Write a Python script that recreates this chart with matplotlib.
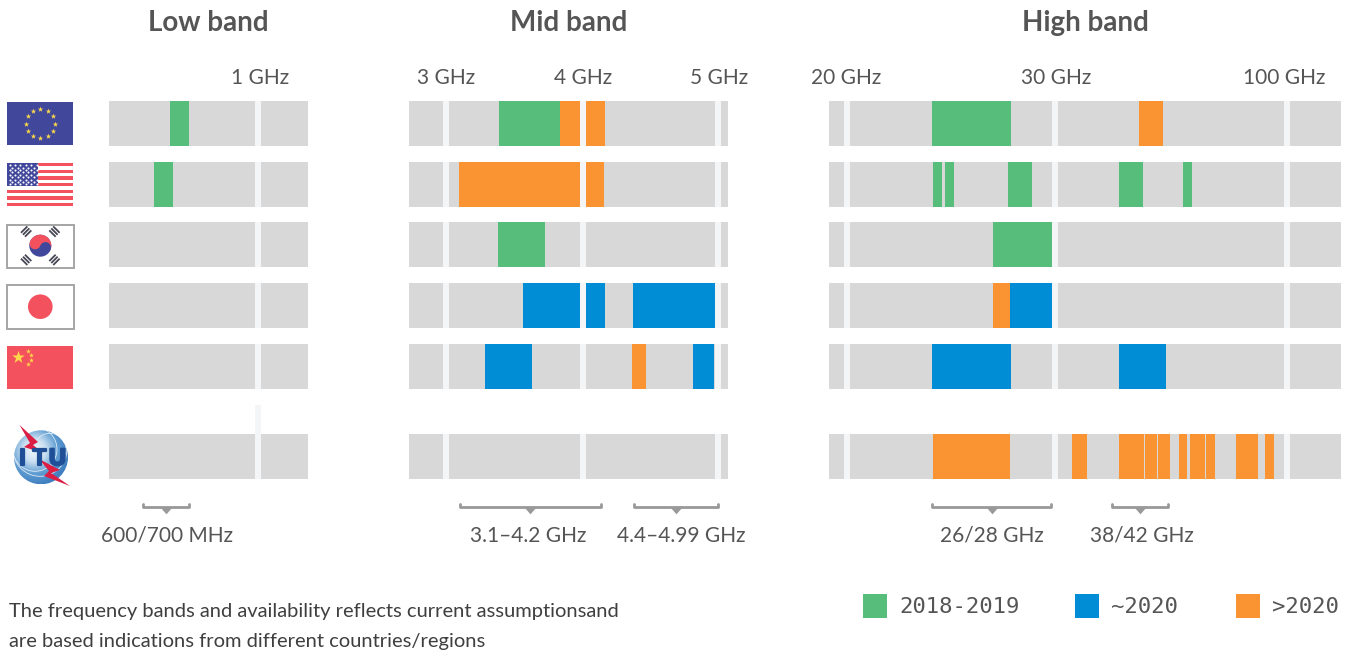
import numpy as np
import matplotlib
matplotlib.use('Agg')
import matplotlib.pyplot as plt
import matplotlib.patheffects as pe
from matplotlib.patches import Rectangle, Circle, Wedge, Polygon

plt.rcParams['font.family'] = 'Lato'

# status of a block of spectrum
early = '2018-2019'
mid = '~2020'
late = '>2020'
statuses = [early, mid, late]
colors = {early: '#57BD7B', mid: '#018DD5', late: '#FA9433'}
status_x = [863, 1075, 1236]

# rows: EU, USA, Korea, Japan, China, ITU. Blocks are (from GHz, to GHz, status)
low_eu = [(0.693, 0.759, early)]
low_us = [(0.637, 0.703, early)]
low_bands = [low_eu, low_us, [], [], [], []]

mid_eu = [(3.387, 3.832, early), (3.832, 3.978, late), (4.022, 4.163, late)]
mid_us = [(3.095, 3.978, late), (4.022, 4.156, late)]
mid_kr = [(3.380, 3.723, early)]
mid_jp = [(3.562, 3.978, mid), (4.022, 4.163, mid), (4.370, 4.978, mid)]
mid_cn = [(3.285, 3.628, mid), (4.363, 4.467, late), (4.815, 4.970, mid)]
mid_bands = [mid_eu, mid_us, mid_kr, mid_jp, mid_cn, []]

high_eu = [(24.087, 27.885, early), (39.766, 43.085, late)]
high_us = [(24.135, 24.567, early), (24.712, 25.144, early), (27.74, 28.894, early),
           (37.0, 40.319, early), (51.437, 55.64, early)]
high_kr = [(27.019, 29.856, early)]
high_jp = [(27.019, 27.837, late), (27.837, 29.856, mid)]
high_cn = [(24.087, 27.885, mid), (37.0, 43.5, mid)]
high_itu = [(24.135, 27.837, late), (31.859, 33.5, late), (37.0, 40.457, late),
            (40.595, 42.255, late), (42.393, 45.367, late), (49.569, 53.304, late),
            (54.705, 61.707, late), (62.174, 66.376, late), (76.18, 86.45, late),
            (89.718, 93.92, late)]
high_bands = [high_eu, high_us, high_kr, high_jp, high_cn, high_itu]

# axis breaks of each band, the picture's frequency axis is not linear
low_ghz = [0.48, 1, 1.174]
low_px = [109, 258, 308]
mid_ghz = [2.73, 3, 4, 5, 5.074]
mid_px = [409, 446, 583, 718, 728]
high_ghz = [19.13, 20, 30, 37, 43.5, 100, 125.2]
high_px = [829, 847, 1055, 1119, 1166, 1287, 1341]

low_ticks = [1]
low_ticklabels = ['1 GHz']
mid_ticks = [3, 4, 5]
mid_ticklabels = ['3 GHz', '4 GHz', '5 GHz']
high_ticks = [20, 30, 100]
high_ticklabels = ['20 GHz', '30 GHz', '100 GHz']

# brackets under the bars: (from GHz, to GHz)
low_brackets = [(0.6, 0.76)]
mid_brackets = [(3.1, 4.134), (4.375, 5.0)]
high_brackets = [(24.1, 29.8), (36.23, 44.43)]
bracket_labels = ['600/700 MHz', '3.1–4.2 GHz', '4.4–4.99 GHz', '26/28 GHz', '38/42 GHz']

row_y = [123.5, 184.5, 244.5, 305.5, 366.5, 456.5]
bar_h = 45
W, H = 1358, 654
gray = '#D8D8D8'
gap_color = '#F4F5F7'
text_color = '#555555'
px = 72 / 100  # one pixel in points

fig = plt.figure(figsize=(W / 100, H / 100), dpi=100)

# overlay in pixel coordinates for flags, legend and notes
over = fig.add_axes([0, 0, 1, 1], zorder=5)
over.set_xlim(0, W)
over.set_ylim(H, 0)
over.axis('off')

tip = [(-1, 0.55), (1, 0.55), (0, -0.6)]


def draw_band(ghz, pos, blocks, ticks, ticklabels, brackets, title, title_x, label_x, long_gap=None):
    ax = fig.add_axes([pos[0] / W, 0, (pos[-1] - pos[0]) / W, 1])
    forward = lambda v: np.interp(v, ghz, pos)
    inverse = lambda v: np.interp(v, pos, ghz)
    ax.set_xscale('function', functions=(forward, inverse))
    ax.set_xlim(ghz[0], ghz[-1])
    ax.set_ylim(H, 0)
    ax.axis('off')

    for y, row in zip(row_y, blocks):
        ax.barh(y, ghz[-1] - ghz[0], left=ghz[0], height=bar_h, color=gray, zorder=1)
        ax.vlines(ticks, y - bar_h / 2, y + bar_h / 2, color=gap_color, lw=6 * px,
                  capstyle='butt', zorder=2)
        for start, end, status in row:
            ax.barh(y, end - start, left=start, height=bar_h, color=colors[status], zorder=3)
    if long_gap is not None:
        ax.vlines(ticks, long_gap, row_y[-1], color=gap_color, lw=6 * px, capstyle='butt', zorder=2)

    for t, lab, x in zip(ticks, ticklabels, label_x):
        over.text(x, 77.5, lab, ha='center', va='center', fontsize=15, color=text_color)
    over.text(title_x, 23, title, ha='center', va='center', fontsize=20,
              fontweight='bold', color=text_color)

    for start, end in brackets:
        ax.plot([start, start, end, end], [503.5, 506.5, 506.5, 503.5], color='#999999',
                lw=2.8 * px, solid_joinstyle='round', solid_capstyle='round', zorder=4)
        center = forward(start) / 2 + forward(end) / 2
        ax.scatter([inverse(center)], [510], marker=tip, s=85, color='#999999',
                   linewidths=0, zorder=4)
    return ax


draw_band(low_ghz, low_px, low_bands, low_ticks, low_ticklabels, low_brackets,
          'Low band', 208, [260], long_gap=405)
draw_band(mid_ghz, mid_px, mid_bands, mid_ticks, mid_ticklabels, mid_brackets,
          'Mid band', 569, [446.5, 583, 719.5])
draw_band(high_ghz, high_px, high_bands, high_ticks, high_ticklabels, high_brackets,
          'High band', 1085, [846.5, 1056.5, 1284.5])

# bracket labels
bracket_label_x = [167, 528, 681, 992, 1141.5]
for x, lab in zip(bracket_label_x, bracket_labels):
    over.text(x, 536, lab, ha='center', va='center', fontsize=15, color=text_color)

# legend
for status, x in zip(statuses, status_x):
    over.add_patch(Rectangle((x, 594), 24, 24, color=colors[status], lw=0))
    over.text(x + 36, 607, status, ha='left', va='center', fontsize=16,
              family='DejaVu Sans Mono', color=text_color)

# note
over.text(9, 612, 'The frequency bands and availability reflects current assumptionsand',
          ha='left', va='center', fontsize=14.5, color='#3F3F3F')
over.text(9, 642, 'are based indications from different countries/regions',
          ha='left', va='center', fontsize=14.5, color='#3F3F3F')

# flags
flag_blue = '#41479B'
flag_red = '#F4515E'
flag_yellow = '#FFD94A'

# EU
over.add_patch(Rectangle((7, 102), 66, 43, color=flag_blue, lw=0))
ang = np.arange(12) * np.pi / 6
over.scatter(40.3 + 14.7 * np.cos(ang), 123.5 + 14.7 * np.sin(ang), marker='*', s=17,
             color=flag_yellow, linewidths=0)

# USA
over.add_patch(Rectangle((7, 163), 66, 43.3, color='white', lw=0))
for i in range(7):
    over.add_patch(Rectangle((7, 163 + i * 6.67), 66, 3.33, color=flag_red, lw=0))
over.add_patch(Rectangle((7, 163), 31, 23.3, color=flag_blue, lw=0))
for i in range(9):
    n = 6 if i % 2 == 0 else 5
    sx = 9.5 + np.arange(n) * 5.4 + (0 if i % 2 == 0 else 2.7)
    over.scatter(sx, np.full(n, 165.2 + i * 2.4), marker='o', s=2.2, color='white', linewidths=0)

# Korea
over.add_patch(Rectangle((6.5, 224.5), 67, 43.5, facecolor='white', edgecolor='#A5A5A5', lw=1.4))
kx, ky = 40.3, 245.7
over.add_patch(Circle((kx, ky), 11, color=flag_blue, lw=0))
over.add_patch(Wedge((kx, ky), 11, 200, 20, color=flag_red, lw=0))
over.add_patch(Circle((kx - 5.2, ky - 1.9), 5.5, color=flag_red, lw=0))
over.add_patch(Circle((kx + 5.2, ky + 1.9), 5.5, color=flag_blue, lw=0))
for dx, dy in [(-1, -1), (1, -1), (-1, 1), (1, 1)]:
    radial = np.array([dx, dy]) / np.sqrt(2)
    side = np.array([dy, -dx]) / np.sqrt(2)
    center = np.array([kx, ky]) + radial * 20
    for off in (-2.8, 0, 2.8):
        a = center + radial * off - side * 4.5
        b = center + radial * off + side * 4.5
        over.plot([a[0], b[0]], [a[1], b[1]], color='#464655', lw=1.8 * px, solid_capstyle='butt')

# Japan
over.add_patch(Rectangle((6.5, 285), 67, 43.5, facecolor='white', edgecolor='#A5A5A5', lw=1.4))
over.add_patch(Circle((40.3, 306.7), 12.3, color=flag_red, lw=0))

# China
over.add_patch(Rectangle((7, 345.5), 66, 43, color=flag_red, lw=0))
over.scatter([18], [357], marker='*', s=90, color=flag_yellow, linewidths=0)
over.scatter([27.7, 31, 31, 27.7], [350.7, 354.7, 360.3, 364.3], marker='*', s=14,
             color=flag_yellow, linewidths=0)

# ITU globe
gx, gy, gr = 41, 457.3, 27
yy, xx = np.mgrid[-1:1:120j, -1:1:120j]
dist = np.hypot(xx + 0.25, yy + 0.25)
globe = over.imshow(dist, extent=(gx - gr, gx + gr, gy + gr, gy - gr), cmap=matplotlib.colors.LinearSegmentedColormap.from_list(
    'globe', ['#F4F9FD', '#C9DFF1', '#5F9DD2', '#3F7FBF']), vmin=0, vmax=1.3, aspect='auto', zorder=1)
globe.set_clip_path(Circle((gx, gy), gr, transform=over.transData))
over.set_xlim(0, W)
over.set_ylim(H, 0)
for dx_, r_ in [(-6, 22), (9, 16), (-1, 27)]:
    over.add_patch(Circle((gx + dx_, gy - 8), r_, fill=False, edgecolor='#DDEAF5', lw=0.6,
                          clip_path=Circle((gx, gy), gr, transform=over.transData), zorder=2))
over.add_patch(Polygon([(19.5, 425), (38, 442), (33, 445), (43, 453), (24, 447), (30, 443)],
                       color='#DC1E44', lw=0, zorder=3))
over.add_patch(Polygon([(39, 459), (60, 470), (51, 473), (70, 486), (44, 476), (49, 471)],
                       color='#DC1E44', lw=0, zorder=3))
for letter, x in zip('ITU', [22.5, 39.5, 57.5]):
    t = over.text(x, 458.5, letter, ha='center', va='center', fontsize=17, fontweight='bold',
                  family='Liberation Sans', color='#1F4F96', zorder=4)
    t.set_path_effects([pe.withStroke(linewidth=1.6, foreground='#1F4F96')])

fig.savefig('out.png', dpi=100)
